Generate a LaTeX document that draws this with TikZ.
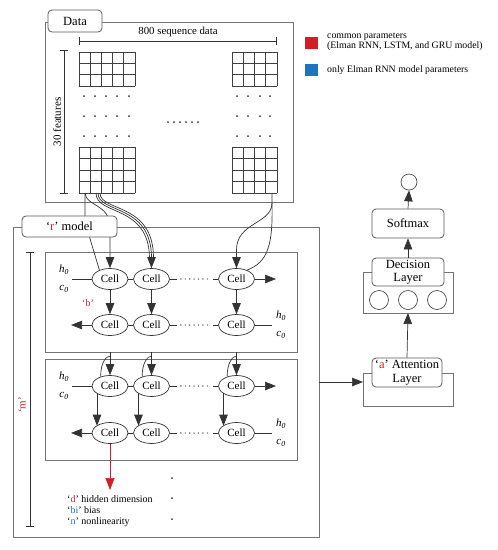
\documentclass[tikz,border=0pt]{standalone}
\usepackage{fontspec}
\setmainfont{Liberation Serif}
\usetikzlibrary{shapes.geometric,arrows.meta,calc}
\definecolor{myred}{HTML}{D11F2A}
\definecolor{myblue}{HTML}{1E74BE}
\newcommand\mygrid[6]{%
  \foreach \i in {0,...,#3} \draw[gridline] ({#1+\i*#5},#2) -- ({#1+\i*#5},{#2+#4*#6});
  \foreach \j in {0,...,#4} \draw[gridline] (#1,{#2+\j*#6}) -- ({#1+#3*#5},{#2+\j*#6});
}
\newcommand\rowlinks[3]{%
  \draw[ln] (#1.east) -- (#2.west);
  \draw[ln] (#2.east) -- ++(7,0);
  \draw[dotline] ($(#2.east)+(11,0)$) -- ($(#3.west)+(-9,0)$);
  \draw[ln] ($(#3.west)+(-5,0)$) -- (#3.west);
}
\begin{document}
\begin{tikzpicture}[x=1pt,y=-1pt,
  frame/.style={draw=black!55, line width=0.9pt},
  ln/.style={draw=black!80, line width=0.7pt},
  gridline/.style={draw=black!75, line width=0.9pt},
  tip/.style={-{Triangle[length=11pt,width=8.5pt]}},
  dotline/.style={draw=black!80, line width=1.4pt, dash pattern=on 0pt off 4.4pt, line cap=round},
  cell/.style={ellipse, draw=black!80, line width=0.7pt, minimum width=36pt, minimum height=21pt, inner sep=0pt, fill=white, font=\fontsize{11}{12}\selectfont},
  lbl/.style={draw=black!65, rounded corners=4pt, fill=white, line width=0.8pt, inner sep=0pt, align=center},
  txt/.style={inner sep=0pt},
]
\useasboundingbox (0,0) rectangle (498,550);

% ---------------- Data box ----------------
\draw[frame] (45,22) rectangle (293,202);
\node[lbl, minimum width=54pt, minimum height=22pt, font=\fontsize{12.5}{13}\selectfont] (data) at (75,21) {Data};
\draw[ln] (79,41) -- (276,41);
\draw[ln] (79,37) -- (79,45);
\draw[ln] (276,37) -- (276,45);
\node[txt, font=\fontsize{10.8}{12}\selectfont] (seq) at (178,32) {800 sequence data};
\draw[ln] (64,50) -- (64,193);
\draw[ln] (60,50) -- (68,50);
\draw[ln] (60,193) -- (68,193);
\node[txt, rotate=90, font=\fontsize{11}{12}\selectfont] (feat) at (57,122) {30 features};

\mygrid{79}{52}{5}{3}{11.2}{11.33}
\mygrid{79}{147}{5}{4}{11.2}{11.5}
\mygrid{232}{52}{4}{3}{11.25}{11.33}
\mygrid{232}{147}{4}{4}{11.25}{11.5}
\foreach \y in {96,116,136} {
  \foreach \x in {84,95,106,117,129} \fill[black!80] (\x,\y) circle (1);
  \foreach \x in {237,248,260,270} \fill[black!80] (\x,\y) circle (1);
}
\foreach \x in {168,174,...,198} \fill[black!80] (\x,122) circle (1);

\coordinate (g1) at (85,193);
\coordinate (g2) at (96,193);
\coordinate (g3) at (272,193);

% ---------------- r model box ----------------
\draw[frame] (13,227) rectangle (319,537);
\draw[frame] (45,252) rectangle (297,352);
\draw[frame] (45,359) rectangle (297,460);
\draw[ln] (30,252) -- (30,526);
\draw[ln] (26,252) -- (34,252);
\draw[ln] (26,526) -- (34,526);
\node[txt, rotate=90, text=myred, font=\fontsize{11}{12}\selectfont] (mlab) at (22,405) {‘m’};

% cells
\foreach \r/\y in {1/279,2/325,3/386,4/433} {
  \node[cell] (c\r1) at (110,\y) {Cell};
  \node[cell] (c\r2) at (151.5,\y) {Cell};
  \node[cell] (c\r3) at (236.5,\y) {Cell};
}
\rowlinks{c11}{c12}{c13}
\rowlinks{c21}{c22}{c23}
\rowlinks{c31}{c32}{c33}
\rowlinks{c41}{c42}{c43}

% h0 c0 labels and side connectors
\node[txt, font=\fontsize{11}{12}\selectfont\itshape] (h1) at (64,270) {h\textsubscript{0}};
\node[txt, font=\fontsize{11}{12}\selectfont\itshape] (k1) at (64,289) {c\textsubscript{0}};
\coordinate (s1) at (72,279);
\draw[ln] (s1) -- (c11.west);
\coordinate (e1) at (276,279);
\draw[ln,tip] (c13.east) -- (e1);

\coordinate (e2) at (71,325);
\draw[ln,tip] (c21.west) -- (e2);
\coordinate (s2) at (272,325);
\draw[ln] (c23.east) -- (s2);
\node[txt, font=\fontsize{11}{12}\selectfont\itshape] (h2) at (281,316) {h\textsubscript{0}};
\node[txt, font=\fontsize{11}{12}\selectfont\itshape] (k2) at (281,335) {c\textsubscript{0}};

\node[txt, font=\fontsize{11}{12}\selectfont\itshape] (h3) at (64,377) {h\textsubscript{0}};
\node[txt, font=\fontsize{11}{12}\selectfont\itshape] (k3) at (64,396) {c\textsubscript{0}};
\coordinate (s3) at (72,386);
\draw[ln] (s3) -- (c31.west);
\coordinate (e3) at (276,386);
\draw[ln,tip] (c33.east) -- (e3);

\coordinate (e4) at (71,433);
\draw[ln,tip] (c41.west) -- (e4);
\coordinate (s4) at (272,433);
\draw[ln] (c43.east) -- (s4);
\node[txt, font=\fontsize{11}{12}\selectfont\itshape] (h4) at (281,424) {h\textsubscript{0}};
\node[txt, font=\fontsize{11}{12}\selectfont\itshape] (k4) at (281,443) {c\textsubscript{0}};

\node[txt, text=myred, font=\fontsize{10}{11}\selectfont] (blab) at (88,303) {‘b’};

% vertical arrows in box 1
\foreach \k in {1,2,3} \draw[ln,tip] (c1\k.south) -- (c2\k.north);
% vertical arrows in box 2 (offset)
\foreach \k in {1,2,3} \draw[ln,tip] ($(c3\k)+(-13,7.3)$) -- ($(c4\k)+(-13,-7.3)$);
% inputs into box 2
\foreach \k in {1,2,3} {
  \draw[ln,tip] ($(c3\k.north)+(0,-23.5)$) -- (c3\k.north);
  \draw[ln] (c3\k.135) .. controls ($(c3\k.135)+(0,-14)$) and ($(c3\k.north)+(-4,-19)$) .. ($(c3\k.north)+(0,-19)$);
}

% inputs from data into box 1 (drawn before label so label covers them)
\draw[ln] (g1) -- (85,222) -- (c11.140);
\draw[ln,tip] (g1) .. controls (86,207) and (110,203) .. (110,228) -- (c11.north);
\draw[ln] (g2) .. controls (96,216) and (149,204) .. (149.5,258);
\draw[ln] ($(g2)+(2,0)$) .. controls (98,214) and (151.5,203) .. (151.5,258);
\draw[ln] ($(g2)+(4,0)$) .. controls (100,212) and (153.5,202) .. (153.5,258);
\draw[ln,tip] (151.5,254) -- (c12.north);
\draw[ln,tip] (g3) -- (272,203) .. controls (272,224) and (236.5,222) .. (236.5,250) -- (c13.north);
\draw[ln] (272,203) .. controls (273,245) and (268,262) .. (c13.40);

\node[lbl, minimum width=95pt, minimum height=21pt, font=\fontsize{12.5}{13}\selectfont] (rlab) at (69.5,226.5) {‘\textcolor{myred}{r}’ model};

% red arrow and parameter list
\coordinate (dtip) at (110,490);
\draw[draw=myred, line width=0.7pt, -{Triangle[length=12pt,width=9pt]}, myred] (c41.south) -- (dtip);
\node[txt, anchor=west, font=\fontsize{10}{11}\selectfont] (pd) at (67,499) {‘\textcolor{myred}{d}’ hidden dimension};
\node[txt, anchor=west, font=\fontsize{10}{11}\selectfont] (pb) at (67,510.5) {‘\textcolor{myblue}{bi}’ bias};
\node[txt, anchor=west, font=\fontsize{10}{11}\selectfont] (pn) at (67,522) {‘\textcolor{myblue}{n}’ nonlinearity};
\foreach \y in {478,498,519} \fill[black!80] (172,\y) circle (1);

% ---------------- right column ----------------
\draw[frame] (363,272) rectangle (453,313);
\draw[frame] (363,373) rectangle (453,406);
\node[circle, draw=black!70, line width=0.7pt, minimum size=16pt, inner sep=0pt] (out) at (409,182) {};
\node[lbl, minimum width=72pt, minimum height=29pt, font=\fontsize{12.5}{13}\selectfont] (soft) at (408,223.5) {Softmax};
\node[lbl, minimum width=72pt, minimum height=28pt, font=\fontsize{12.5}{13.5}\selectfont] (dec) at (408,272) {Decision\\Layer};
\foreach \x/\n in {379/1,408/2,437/3} \node[circle, draw=black!70, line width=0.7pt, minimum size=19pt, inner sep=0pt] (d\n) at (\x,300) {};
\node[lbl, minimum width=70pt, minimum height=29pt, font=\fontsize{12.5}{13.5}\selectfont] (att) at (407,372.5) {‘\textcolor{myred}{a}’ Attention\\Layer};
\coordinate (decbot) at (408,313);
\draw[ln,tip] (att.north) -- (decbot);
\draw[ln,tip] (dec.north) -- (soft.south);
\draw[ln,tip] (soft.north) -- (out.south);
\coordinate (rright) at (319,382);
\coordinate (attleft) at (363,382);
\draw[ln,tip] (rright) -- (attleft);

% ---------------- legend ----------------
\fill[myred] (305,37) rectangle (318,49);
\fill[myblue] (305,64) rectangle (318,76);
\node[txt, anchor=north west, align=left, font=\fontsize{9.8}{10}\selectfont] (leg1) at (327,33) {common parameters\\(Elman RNN, LSTM, and GRU model)};
\node[txt, anchor=west, font=\fontsize{9.8}{10}\selectfont] (leg2) at (327,70) {only Elman RNN model parameters};
\end{tikzpicture}
\end{document}
